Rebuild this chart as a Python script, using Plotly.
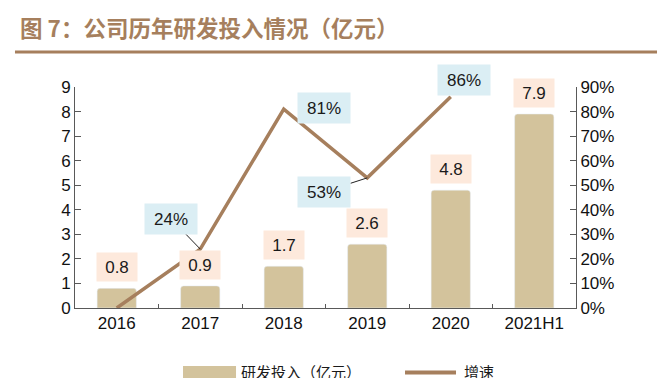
import plotly.graph_objects as go

categories = ["2016", "2017", "2018", "2019", "2020", "2021H1"]
rd_spend = [0.8, 0.9, 1.7, 2.6, 4.8, 7.9]
growth_cats = ["2016", "2017", "2018", "2019", "2020"]
growth = [0.0, 0.24, 0.81, 0.53, 0.86]
growth_labels = [None, "24%", "81%", "53%", "86%"]

left_ticks = list(range(0, 10))
right_ticks = [i / 10 for i in range(0, 10)]

BAR = "#D3C39C"
LINE = "#A67F5D"
PEACH = "#FDE9DC"
BLUE = "#DBEEF4"
AX = "#595959"
FONT = "Liberation Sans, Arial, sans-serif"
CJK = "Noto Sans CJK SC, sans-serif"

fig = go.Figure()
fig.add_trace(go.Bar(x=categories, y=rd_spend, marker=dict(color=BAR, cornerradius=3),
                     width=0.47, name="研发投入（亿元）", showlegend=False))
fig.add_trace(go.Scatter(x=growth_cats, y=growth, yaxis="y2", mode="lines",
                         line=dict(color=LINE, width=3.5), name="增速", showlegend=False))

ann = []
# bar value labels (category index positions)
for c, v in zip(categories, rd_spend):
    ann.append(dict(x=categories.index(c), y=v, xref="x", yref="y", text=f"{v:.1f}", showarrow=False,
                    yshift=21, bgcolor=PEACH, width=38, height=26,
                    font=dict(family=FONT, size=17, color="#1a1a1a")))
# growth labels
offsets = {"2017": (-29, -30, True), "2018": (40, 1, False), "2019": (-43, 14, True), "2020": (13, 17, False)}
for c, v, t in zip(growth_cats, growth, growth_labels):
    if t is None:
        continue
    dx, dy, arrow = offsets[c]
    xi = categories.index(c)
    if arrow:
        ann.append(dict(x=xi, y=v, xref="x", yref="y2", text=t, showarrow=True,
                        arrowhead=0, arrowwidth=1, arrowcolor="#222222", ax=dx, ay=dy,
                        bgcolor=BLUE, width=50, height=28,
                        font=dict(family=FONT, size=17, color="#1a1a1a")))
    else:
        ann.append(dict(x=xi, y=v, xref="x", yref="y2", text=t, showarrow=False,
                        xshift=dx, yshift=dy, bgcolor=BLUE, width=50, height=28,
                        font=dict(family=FONT, size=17, color="#1a1a1a")))

# title
ann.append(dict(x=-0.1138, y=1.27, xref="paper", yref="paper", xanchor="left", yanchor="middle",
                text="<b>图 7：公司历年研发投入情况（亿元）</b>", showarrow=False,
                font=dict(family=CJK, size=22.5, color="#A67F5D")))
# legend texts
ann.append(dict(x=0.327, y=-0.287, xref="paper", yref="paper", xanchor="left", yanchor="middle",
                text="研发投入（亿元）", showarrow=False, font=dict(family=CJK, size=15, color="#1a1a1a")))
ann.append(dict(x=0.7725, y=-0.287, xref="paper", yref="paper", xanchor="left", yanchor="middle",
                text="增速", showarrow=False, font=dict(family=CJK, size=15, color="#1a1a1a")))

shapes = [
    dict(type="line", xref="paper", yref="paper", x0=-0.1198, x1=1.1617, y0=1.158, y1=1.158,
         line=dict(color=LINE, width=3)),
    dict(type="rect", xref="paper", yref="paper", x0=0.2156, x1=0.3214, y0=-0.33, y1=-0.262,
         line=dict(width=0), fillcolor=BAR),
    dict(type="line", xref="paper", yref="paper", x0=0.6587, x1=0.7605, y0=-0.292, y1=-0.292,
         line=dict(color=LINE, width=4)),
]

fig.update_layout(
    width=667, height=378,
    margin=dict(l=67, r=99, t=79, b=78),
    paper_bgcolor="white", plot_bgcolor="white",
    showlegend=False,
    annotations=ann, shapes=shapes,
    xaxis=dict(type="category", categoryorder="array", categoryarray=categories,
               range=[-0.5, 5.5],
               showline=True, linecolor=AX, linewidth=1, ticks="inside", tickson="boundaries",
               ticklen=4, tickcolor=AX, showgrid=False,
               tickfont=dict(family=FONT, size=17, color="#111111")),
    yaxis=dict(range=[0, 9], tickvals=left_ticks, showline=True, linecolor=AX, linewidth=1,
               ticks="inside", ticklen=6, tickcolor=AX, showgrid=False, zeroline=False,
               tickfont=dict(family=FONT, size=17, color="#111111")),
    yaxis2=dict(range=[0, 0.9], tickvals=right_ticks, tickformat=".0%", overlaying="y", side="right",
                showline=True, linecolor=AX, linewidth=1, ticks="inside", ticklen=6, tickcolor=AX,
                showgrid=False, zeroline=False,
                tickfont=dict(family=FONT, size=17, color="#111111")),
)

fig.write_html("out.html")
